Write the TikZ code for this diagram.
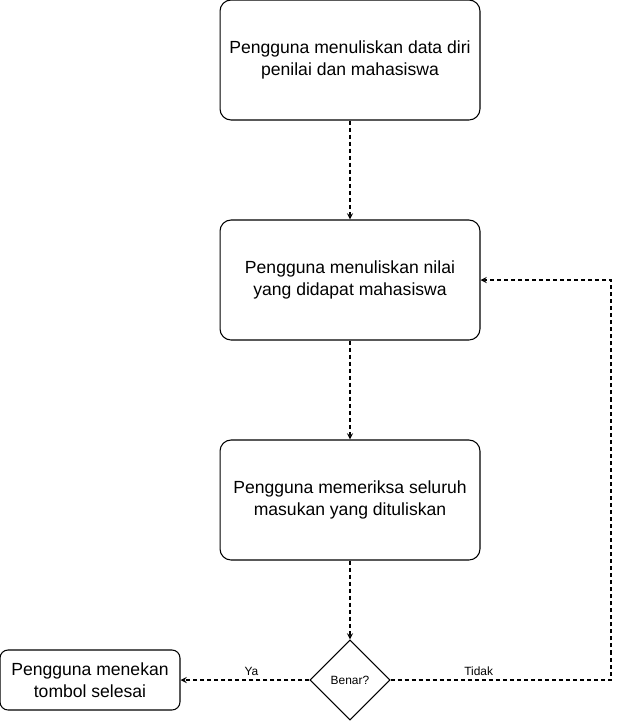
\documentclass[tikz,border=0pt]{standalone}
\usepackage{fontspec}
\setmainfont{Liberation Sans}
\usetikzlibrary{shapes.geometric}

\begin{document}
\begin{tikzpicture}[x=0.02cm,y=-0.02cm,line width=0.6pt,
    stepbox/.style={draw,rounded corners=0.22cm,minimum width=5.2cm,minimum height=2.4cm,align=center,font=\fontsize{10}{12.5}\selectfont},
    endbox/.style={draw,rounded corners=0.16cm,minimum width=3.6cm,minimum height=1.2cm,align=center,font=\fontsize{10}{12.5}\selectfont},
    decision/.style={draw,diamond,minimum width=1.6cm,minimum height=1.6cm,inner sep=0pt,font=\fontsize{6.8}{8}\selectfont},
    flow/.style={-stealth,dash pattern=on 2.3pt off 1.7pt},
    lbl/.style={font=\fontsize{6.8}{8}\selectfont,inner sep=2pt}]
    \useasboundingbox (0,0) rectangle (619,721);

    % Steps
    \node[stepbox] (tulisdata) at (350,60) {Pengguna menuliskan data diri\\penilai dan mahasiswa};
    \node[stepbox] (tulisnilai) at (350,280) {Pengguna menuliskan nilai\\yang didapat mahasiswa};
    \node[stepbox] (periksa) at (350,500) {Pengguna memeriksa seluruh\\masukan yang dituliskan};

    % Check
    \node[decision] (cek) at (350,680) {Benar?};
    \node[endbox] (selesai) at (90,680) {Pengguna menekan\\tombol selesai};
    \coordinate (balik) at (611,680);

    % Arrows
    \draw[flow] (tulisdata) -- (tulisnilai);
    \draw[flow] (tulisnilai) -- (periksa);
    \draw[flow] (periksa) -- (cek);
    \draw[flow] (cek) -- node[lbl,above,pos=0.45] {Ya} (selesai);
    \draw[flow] (cek.east) -- node[lbl,above,pos=0.4] {Tidak} (balik) |- (tulisnilai.east);
\end{tikzpicture}
\end{document}
